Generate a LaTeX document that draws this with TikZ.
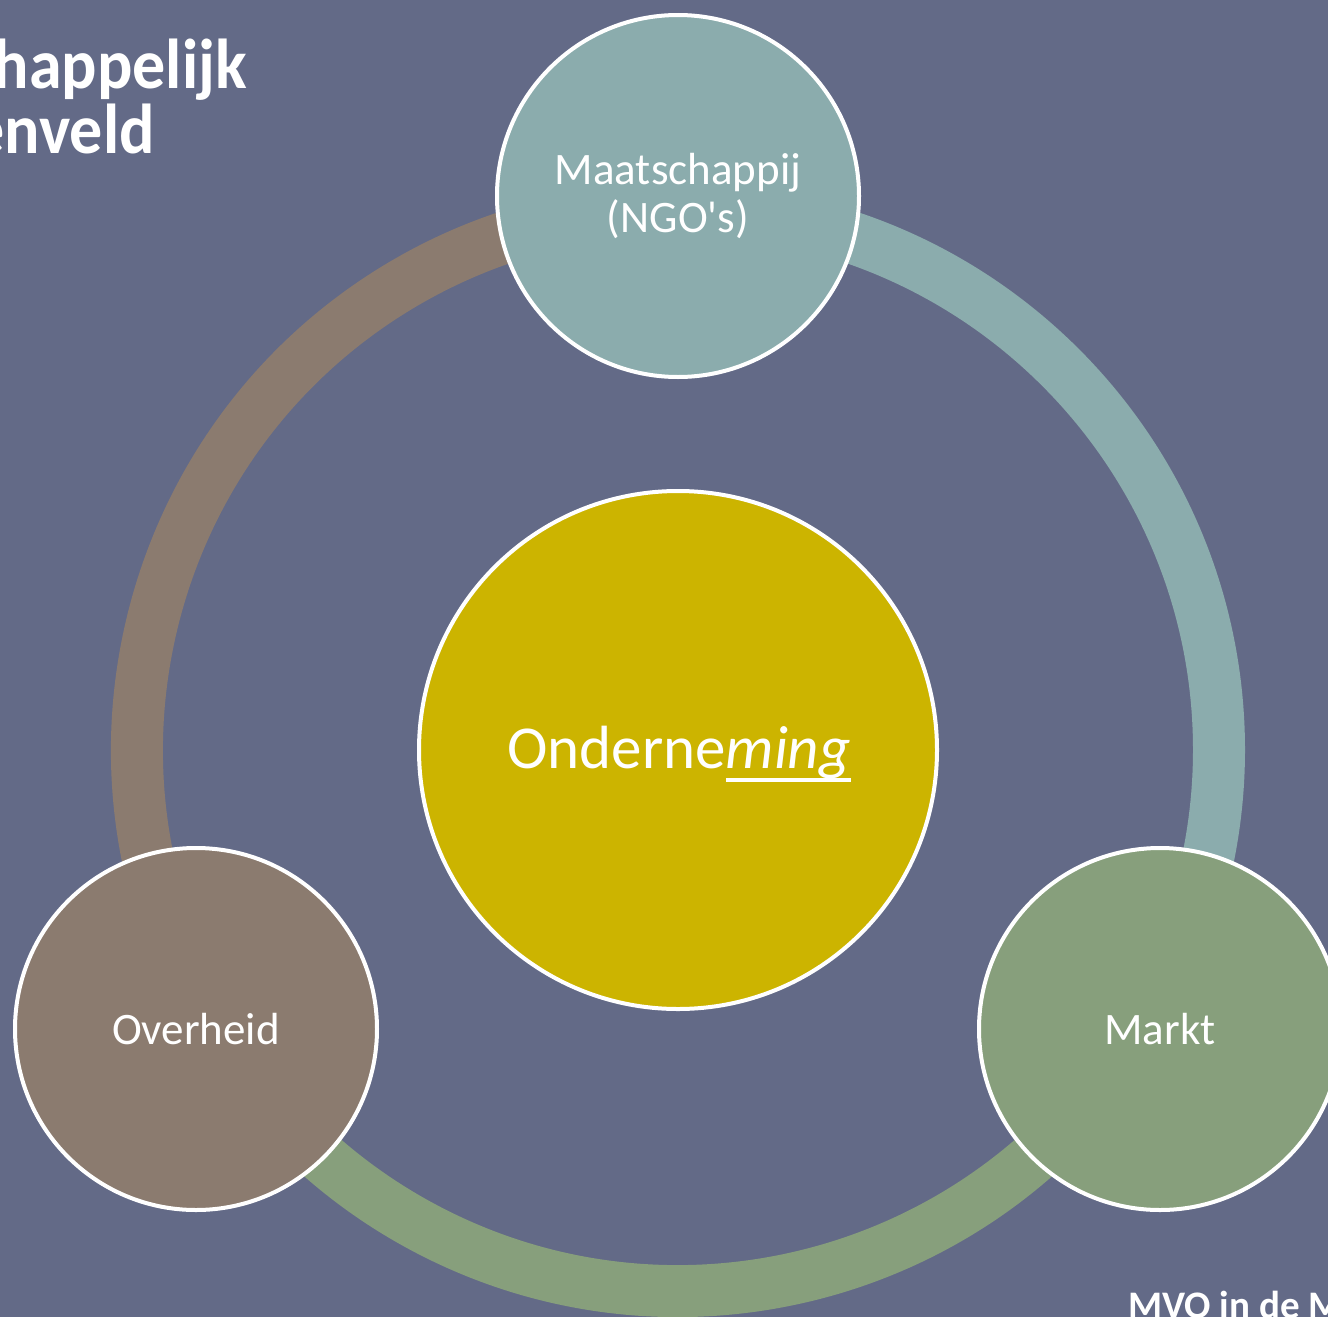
\documentclass[tikz,border=0pt]{standalone}
\usepackage{fontspec}
\usepackage{graphicx}
\setmainfont{Carlito}
\definecolor{bg}{HTML}{636A87}
\definecolor{ringteal}{HTML}{8BACAD}
\definecolor{ringgreen}{HTML}{879F7C}
\definecolor{ringbrown}{HTML}{8B7B6F}
\definecolor{coreyellow}{HTML}{CCB400}
\newlength\myulw
\newcommand\myul[1]{\settowidth{\myulw}{#1}\rlap{\rule[-14pt]{\myulw}{4.5pt}}#1}
\tikzset{
  ringarc/.style={line width=52pt},
  party/.style={circle, draw=white, line width=4pt, minimum size=362pt, inner sep=0pt},
  core/.style={circle, draw=white, line width=4pt, minimum size=518pt, inner sep=0pt, fill=coreyellow},
  lbl/.style={text=white, inner sep=0pt, align=center, font=\fontsize{45}{48}\selectfont},
  title/.style={text=white, inner sep=0pt, font=\bfseries\fontsize{66}{65}\selectfont},
}
\begin{document}
\begin{tikzpicture}[x=1pt,y=1pt]
\useasboundingbox (0,0) rectangle (1328,-1317);
\fill[bg] (0,0) rectangle (1328,-1317);
\coordinate (C) at (678,-750);
% ring
\draw[ringarc, ringteal] ([shift={(90:541)}]C) arc[start angle=90, end angle=-30, radius=541];
\draw[ringarc, ringgreen] ([shift={(-30:541)}]C) arc[start angle=-30, end angle=-150, radius=541];
\draw[ringarc, ringbrown] ([shift={(210:541)}]C) arc[start angle=210, end angle=90, radius=541];
% circles
\node[party, fill=ringteal] (maat) at (678,-196) {};
\node[party, fill=ringbrown] (over) at (196,-1029) {};
\node[party, fill=ringgreen] (markt) at (1160,-1029) {};
\node[core] (onder) at (C) {};
% labels
\node[lbl, anchor=base] (maatl1) at (678,-184) {Maatschappij};
\node[lbl, anchor=base] (maatl2) at (678,-232) {(NGO\textquotesingle s)};
\node[lbl, anchor=base] (overl) at (196,-1044) {Overheid};
\node[lbl, anchor=base] (marktl) at (1160,-1044) {Markt};
\node[lbl, anchor=base, font=\fontsize{61}{66}\selectfont] (onderl) at (679,-768) {Onderne\myul{\itshape ming}};
% title and footer
\node[title, anchor=base east] (t1) at (247,-88) {\scalebox{1}[1.07]{happelijk}};
\node[title, anchor=base east] (t2) at (155,-153) {\scalebox{1}[1.07]{enveld}};
\node[text=white, inner sep=0pt, anchor=base west, font=\bfseries\fontsize{39}{44}\selectfont] (foot) at (1128,-1318) {MVO in de M};
\end{tikzpicture}
\end{document}
